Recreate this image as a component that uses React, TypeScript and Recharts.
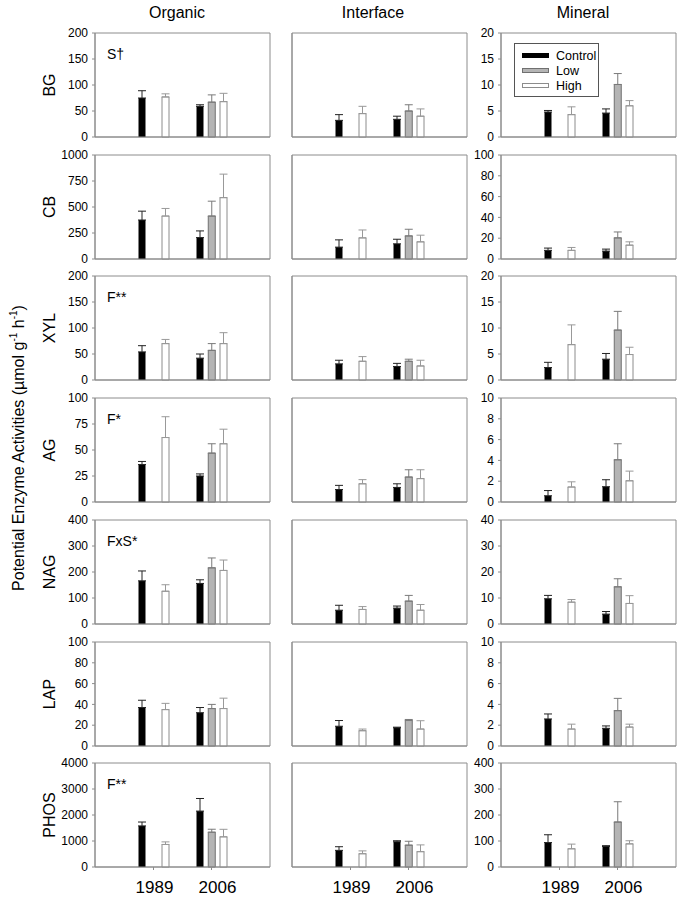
import { BarChart, Bar, XAxis, YAxis, ErrorBar, Legend, CartesianGrid } from 'recharts';

const years = ['1989', '2006'];
const enzymes = ['BG', 'CB', 'XYL', 'AG', 'NAG', 'LAP', 'PHOS'];
const horizons = ['Organic', 'Interface', 'Mineral'];
const treatments = ['Control', 'Low', 'High'];
const notes = ['S†', '', 'F**', 'F*', 'FxS*', '', 'F**'];

// y ticks, organic scale is shared by the interface column
const organicTicks = [
  [0, 50, 100, 150, 200],
  [0, 250, 500, 750, 1000],
  [0, 50, 100, 150, 200],
  [0, 25, 50, 75, 100],
  [0, 100, 200, 300, 400],
  [0, 20, 40, 60, 80, 100],
  [0, 1000, 2000, 3000, 4000],
];
const mineralTicks = [
  [0, 5, 10, 15, 20],
  [0, 20, 40, 60, 80, 100],
  [0, 5, 10, 15, 20],
  [0, 2, 4, 6, 8, 10],
  [0, 10, 20, 30, 40],
  [0, 2, 4, 6, 8, 10],
  [0, 100, 200, 300, 400],
];

// values per enzyme: [1989, 2006]
const organicControl = [[75, 59], [375, 206], [54, 42], [36, 25], [166, 156], [37, 32], [1580, 2150]];
const organicControlErr = [[14, 3], [85, 64], [12, 8], [3, 2], [38, 14], [7, 5], [150, 485]];
const organicLow = [[null, 67], [null, 413], [null, 57], [null, 47], [null, 216], [null, 36], [null, 1338]];
const organicLowErr = [[null, 14], [null, 143], [null, 13], [null, 9], [null, 38], [null, 4], [null, 114]];
const organicHigh = [[77, 68], [413, 590], [70, 70], [62, 56], [126, 206], [35, 36], [866, 1160]];
const organicHighErr = [[6, 16], [73, 226], [8, 21], [20, 14], [25, 40], [6, 10], [100, 290]];

const interfaceControl = [[32, 34], [114, 146], [31, 26], [12, 14], [53, 61], [19, 17.5], [640, 970]];
const interfaceControlErr = [[11, 6], [70, 44], [7, 6], [4, 3.5], [19, 8], [5.5, 0.6], [140, 40]];
const interfaceLow = [[null, 50], [null, 222], [null, 36], [null, 24], [null, 88], [null, 24.5], [null, 840]];
const interfaceLowErr = [[null, 12], [null, 64], [null, 4], [null, 7], [null, 22], [null, 1], [null, 150]];
const interfaceHigh = [[45, 40], [203, 165], [36, 27], [17.5, 22.5], [56, 53], [14.7, 16.3], [510, 590]];
const interfaceHighErr = [[14, 14], [76, 64], [9, 11], [4, 8.5], [11, 22], [1.6, 8], [110, 260]];

const mineralControl = [[4.8, 4.6], [8.3, 7.6], [2.4, 4.0], [0.6, 1.47], [9.7, 3.8], [2.6, 1.7], [94, 79]];
const mineralControlErr = [[0.3, 0.8], [2.2, 1.9], [1.0, 1.1], [0.5, 0.67], [1.3, 1.0], [0.48, 0.23], [30, 3]];
const mineralLow = [[null, 10.1], [null, 20.3], [null, 9.6], [null, 4.06], [null, 14.3], [null, 3.4], [null, 173]];
const mineralLowErr = [[null, 2.1], [null, 5.7], [null, 3.6], [null, 1.54], [null, 3.1], [null, 1.18], [null, 78]];
const mineralHigh = [[4.3, 6.0], [8.3, 13.3], [6.8, 4.9], [1.44, 2.04], [8.4, 7.9], [1.63, 1.82], [70, 89]];
const mineralHighErr = [[1.5, 1.0], [2.8, 3.2], [3.8, 1.4], [0.5, 0.93], [1.0, 3.0], [0.47, 0.28], [18, 12]];

const columns = [
  { control: organicControl, controlErr: organicControlErr, low: organicLow, lowErr: organicLowErr, high: organicHigh, highErr: organicHighErr },
  { control: interfaceControl, controlErr: interfaceControlErr, low: interfaceLow, lowErr: interfaceLowErr, high: interfaceHigh, highErr: interfaceHighErr },
  { control: mineralControl, controlErr: mineralControlErr, low: mineralLow, lowErr: mineralLowErr, high: mineralHigh, highErr: mineralHighErr },
];

const FONT = '"Liberation Sans", Arial, sans-serif';
const FRAME = '#8c8c8c';
const treatmentStyle: Record<string, { fill: string; stroke: string }> = {
  Control: { fill: '#000', stroke: '#000' },
  Low: { fill: '#b4b4b4', stroke: '#707070' },
  High: { fill: '#fff', stroke: '#8c8c8c' },
};

const rowTops = enzymes.map((_, i) => 33 + Math.round(i * 121.7));
const colLefts = [95, 292, 501];
const headerX = [177, 373, 583];
const plotW = 175;
const plotH = 104;
const padL = 45;
const padT = 8;
const padR = 6;
// year labels sit a little right of their ticks in the original
const yearLabelShift = [1, 6];

const LegendBox = () => (
  <div style={{ border: '1px solid #555', background: '#fff', width: 83, padding: '4px 0 3px 0', fontFamily: FONT }}>
    {treatments.map((t) => {
      const st = treatmentStyle[t];
      return (
        <div key={t} style={{ display: 'flex', alignItems: 'center', height: 15, fontSize: 12.5, color: '#000' }}>
          <div style={{ width: 25, height: 3, marginLeft: 7, marginRight: 7, background: st.fill, border: `1px solid ${st.stroke}` }} />
          <span>{t}</span>
        </div>
      );
    })}
  </div>
);

const YearTick = ({ x, y, payload, index }: any) => (
  <text x={x + (yearLabelShift[index] || 0)} y={y} dy="0.71em" textAnchor="middle" fontSize={17} fill="#000">
    {payload.value}
  </text>
);

const Panel = ({ row, col }: { row: number; col: number }) => {
  const src = columns[col];
  const data = years.map((year, i) => ({
    year,
    control: src.control[row][i],
    low: src.low[row][i],
    high: src.high[row][i],
    ce: [0, src.controlErr[row][i]],
    le: src.lowErr[row][i] == null ? null : [0, src.lowErr[row][i]],
    he: [0, src.highErr[row][i]],
  }));
  const isBottom = row === enzymes.length - 1;
  const xH = isBottom ? 34 : 9;
  const ticks = col === 2 ? mineralTicks[row] : organicTicks[row];
  const max = ticks[ticks.length - 1];

  return (
    <div style={{ position: 'absolute', left: colLefts[col] - padL, top: rowTops[row] - padT }}>
      <BarChart
        width={padL + plotW + padR}
        height={padT + plotH + xH}
        data={data}
        margin={{ top: padT, right: padR, bottom: 0, left: 0 }}
        barSize={7}
        barGap={4.75}
      >
        {/* panel frame */}
        <CartesianGrid
          stroke={FRAME}
          strokeDasharray="0"
          horizontalPoints={[padT, padT + plotH]}
          verticalPoints={[padL, padL + plotW]}
        />
        <XAxis
          dataKey="year"
          interval={0}
          padding={{ left: 29.5, right: 29.5 }}
          axisLine={{ stroke: FRAME }}
          tickLine={{ stroke: FRAME }}
          tickSize={3}
          tickMargin={11}
          height={xH}
          tick={isBottom ? <YearTick /> : false}
        />
        <YAxis
          type="number"
          domain={[0, max]}
          ticks={ticks}
          interval={0}
          width={padL}
          axisLine={{ stroke: FRAME }}
          tickLine={{ stroke: FRAME }}
          tickSize={3}
          tickMargin={4}
          tick={col === 1 ? false : { fontSize: 12, fill: '#000' }}
        />
        <Bar dataKey="control" name="Control" fill="#000" isAnimationActive={false}>
          <ErrorBar dataKey="ce" width={4} stroke="#222" strokeWidth={1} />
        </Bar>
        <Bar dataKey="low" name="Low" fill="#b4b4b4" stroke="#707070" strokeWidth={1} isAnimationActive={false}>
          <ErrorBar dataKey="le" width={4} stroke="#7a7a7a" strokeWidth={1} />
        </Bar>
        <Bar dataKey="high" name="High" fill="#fff" stroke="#8c8c8c" strokeWidth={1} isAnimationActive={false}>
          <ErrorBar dataKey="he" width={4} stroke="#999" strokeWidth={1} />
        </Bar>
        {row === 0 && col === 2 && (
          <Legend
            layout="vertical"
            align="center"
            verticalAlign="middle"
            wrapperStyle={{ left: 58, top: 18, width: 85, height: 56 }}
            content={() => <LegendBox />}
          />
        )}
      </BarChart>
    </div>
  );
};

export default function App() {
  return (
    <div style={{ position: 'absolute', left: 0, top: 0, width: 683, height: 901, background: '#fff', fontFamily: FONT, color: '#000' }}>
      {horizons.map((h, i) => (
        <div key={h} style={{ position: 'absolute', left: headerX[i], top: 13, transform: 'translate(-50%, -50%)', fontSize: 16, whiteSpace: 'nowrap' }}>
          {h}
        </div>
      ))}
      <div
        style={{
          position: 'absolute',
          left: 18,
          top: 448,
          transform: 'translate(-50%, -50%) rotate(-90deg)',
          fontSize: 16,
          whiteSpace: 'nowrap',
        }}
      >
        Potential Enzyme Activities (µmol g<sup style={{ fontSize: 10 }}>-1</sup> h<sup style={{ fontSize: 10 }}>-1</sup>)
      </div>
      {enzymes.map((e, r) => (
        <div
          key={e}
          style={{
            position: 'absolute',
            left: 50,
            top: rowTops[r] + 52,
            transform: 'translate(-50%, -50%) rotate(-90deg)',
            fontSize: 16,
            whiteSpace: 'nowrap',
          }}
        >
          {e}
        </div>
      ))}
      {enzymes.map((e, r) =>
        horizons.map((h, c) => <Panel key={e + h} row={r} col={c} />)
      )}
      {notes.map((n, r) =>
        n ? (
          <div key={r} style={{ position: 'absolute', left: 107, top: rowTops[r] + 14, fontSize: 14, lineHeight: '14px' }}>
            {n}
          </div>
        ) : null
      )}
    </div>
  );
}
